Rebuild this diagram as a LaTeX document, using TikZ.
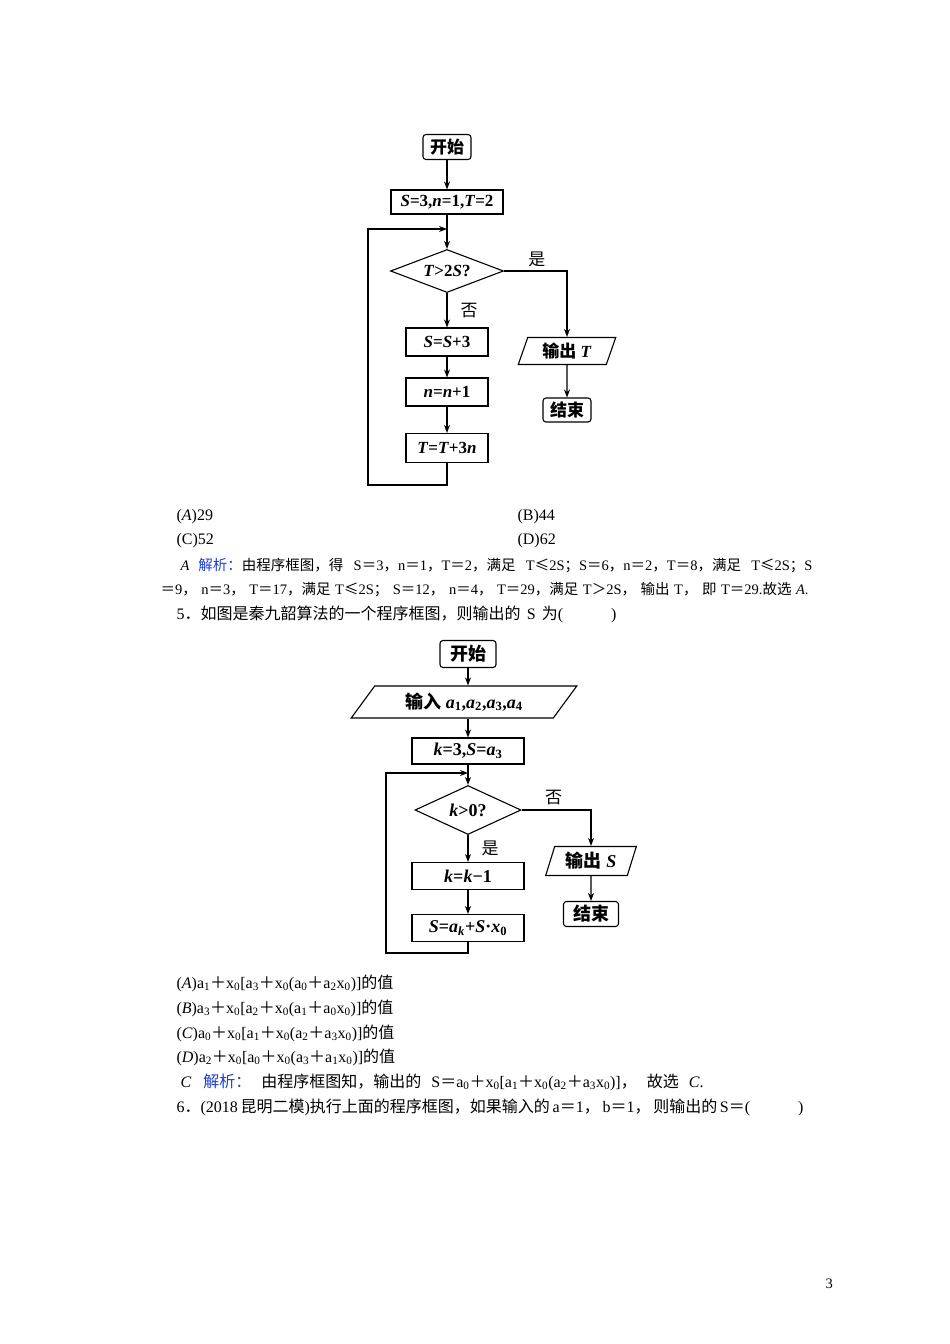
\documentclass[tikz,border=0pt]{standalone}
\usepackage{fontspec}
\setmainfont{Liberation Serif}
\newfontfamily\cjk{Noto Sans CJK SC}
\usetikzlibrary{shapes.geometric, arrows.meta}
\definecolor{jiexiblue}{HTML}{1A3FD0}

\newcommand{\zh}[1]{{\cjk #1}}
\newcommand{\zeq}{\zh{＝}}
\newcommand{\zcm}{\zh{，}}
\newcommand{\zsc}{\zh{；}}
\newcommand{\zpl}{\zh{＋}}
\newcommand{\zle}{\zh{≤}}
\newcommand{\ix}[1]{\textsubscript{#1}}
\newcommand{\qfont}{\fontsize{16}{19}\selectfont}
\newcommand{\sfont}{\fontsize{14.5}{18}\selectfont}
\newcommand{\flowfont}{\fontsize{17}{17}\selectfont\bfseries}
\newcommand{\flowfontb}{\fontsize{18}{18}\selectfont\bfseries}
\newcommand{\labelfont}{\fontsize{17}{17}\selectfont\cjk}

\begin{document}
\begin{tikzpicture}[x=1pt, y=-1pt, line width=1.1pt,
  every node/.style={inner sep=0pt},
  term/.style={draw, rounded corners=3pt, minimum width=48pt, minimum height=25pt, font=\flowfont},
  proc/.style={draw, minimum width=82pt, minimum height=28pt, font=\flowfont},
  decide/.style={draw, diamond, aspect=2.6, minimum width=113pt, minimum height=43pt, font=\flowfont},
  io/.style={draw, trapezium, trapezium left angle=70, trapezium right angle=110, trapezium stretches=true, font=\flowfont},
  arr/.style={-{Stealth[length=8pt, width=6pt]}},
  body/.style={anchor=base west, font=\qfont}]
\useasboundingbox (0,0) rectangle (950,1344);

% first flowchart
\node[term] (start1) at (447,147) {\zh{开始}};
\node[proc, minimum width=112pt, minimum height=24pt] (init1) at (447,202) {\textit{S}=3,\textit{n}=1,\textit{T}=2};
\node[decide] (cond1) at (447,271) {\textit{T}>2\textit{S}?};
\node[proc] (step1) at (447,342) {\textit{S}=\textit{S}+3};
\node[proc] (step2) at (447,392) {\textit{n}=\textit{n}+1};
\node[proc, minimum height=29pt] (step3) at (447,448) {\textit{T}=\textit{T}+3\textit{n}};
\node[io, minimum width=98pt, minimum height=27pt] (out1) at (567,351) {\zh{输出} \textit{T}};
\node[term, minimum height=24pt] (end1) at (567,410) {\zh{结束}};
\coordinate (join1) at (447,229);
\coordinate (back1) at (368,485);

\draw[arr] (start1) -- (init1);
\draw[arr] (init1) -- (cond1);
\draw[arr] (cond1) -- node[right=13pt, font=\labelfont]{否} (step1);
\draw[arr] (cond1.east) -| node[pos=0.26, above=4pt, font=\labelfont]{是} (out1.north);
\draw[arr] (step1) -- (step2);
\draw[arr] (step2) -- (step3);
\draw[arr] (out1) -- (end1);
\draw[arr] (step3.south) |- (back1) |- (join1);

% choices and solution
\node[body] (optA1) at (176,520) {(\textit{A})29};
\node[body] (optB1) at (517,520) {(B)44};
\node[body] (optC1) at (176,544) {(C)52};
\node[body] (optD1) at (517,544) {(D)62};
\node[body, font=\sfont] (sol1a) at (180,570) {\makebox[632pt][s]{\textit{A}\hspace{9pt}{\color{jiexiblue}\zh{解析：}}\zh{由程序框图，得}\ S\zeq 3\zcm n\zeq 1\zcm T\zeq 2\zh{，满足}\ T\zle 2S\zsc S\zeq 6\zcm n\zeq 2\zcm T\zeq 8\zh{，满足}\ T\zle 2S\zsc S}};
\node[body, font=\sfont] (sol1b) at (160,594) {\makebox[648pt][s]{\zeq 9\zcm\ n\zeq 3\zcm\ T\zeq 17\zh{，满足}\ T\zle 2S\zsc\ S\zeq 12\zcm\ n\zeq 4\zcm\ T\zeq 29\zh{，满足}\ T\zh{＞}2S\zcm\ \zh{输出}\ T\zcm\ \zh{即}\ T\zeq 29.\zh{故选}\ \textit{A}.}};
\node[body] (quest5) at (176,619) {\makebox[440pt][s]{5\zh{．如图是秦九韶算法的一个程序框图，则输出的}\ S\ \zh{为}(\zh{　　　})}};

% second flowchart
\node[term, minimum width=56pt, minimum height=27pt, font=\flowfontb] (start2) at (468,654) {\zh{开始}};
\node[io, trapezium left angle=50, trapezium right angle=130, minimum width=226pt, minimum height=32pt, font=\flowfontb] (in2) at (464,702) {\zh{输入} \textit{a}\ix{1},\textit{a}\ix{2},\textit{a}\ix{3},\textit{a}\ix{4}};
\node[proc, minimum width=112pt, minimum height=26pt, font=\flowfontb] (init2) at (468,751) {\textit{k}=3,\textit{S}=\textit{a}\ix{3}};
\node[decide, minimum width=106pt, minimum height=49pt, font=\flowfontb] (cond2) at (468,810) {\textit{k}>0?};
\node[proc, minimum width=112pt, minimum height=27pt, font=\flowfontb] (step4) at (468,876) {\textit{k}=\textit{k}−1};
\node[proc, minimum width=112pt, minimum height=27pt, font=\flowfontb] (step5) at (468,928) {\textit{S}=\textit{a}\ix{\textit{k}}+\textit{S}·\textit{x}\ix{0}};
\node[io, minimum width=91pt, minimum height=29pt, font=\flowfontb] (out2) at (591,861) {\zh{输出} \textit{S}};
\node[term, minimum width=55pt, minimum height=25pt, font=\flowfontb] (end2) at (591,914) {\zh{结束}};
\coordinate (join2) at (468,773);
\coordinate (back2) at (386,953);

\draw[arr] (start2) -- (start2 |- in2.north);
\draw[arr] (init2 |- in2.south) -- (init2);
\draw[arr] (init2) -- (cond2);
\draw[arr] (cond2) -- node[right=13pt, font=\labelfont]{是} (step4);
\draw[arr] (cond2.east) -| node[pos=0.23, above=5pt, font=\labelfont]{否} (out2.north);
\draw[arr] (step4) -- (step5);
\draw[arr] (out2) -- (end2);
\draw[arr] (step5.south) |- (back2) |- (join2);

% choices and solution
\node[body] (optA2) at (176,988) {(\textit{A})a\ix{1}\zpl x\ix{0}[a\ix{3}\zpl x\ix{0}(a\ix{0}\zpl a\ix{2}x\ix{0})]\zh{的值}};
\node[body] (optB2) at (176,1013) {(\textit{B})a\ix{3}\zpl x\ix{0}[a\ix{2}\zpl x\ix{0}(a\ix{1}\zpl a\ix{0}x\ix{0})]\zh{的值}};
\node[body] (optC2) at (176,1038) {(\textit{C})a\ix{0}\zpl x\ix{0}[a\ix{1}\zpl x\ix{0}(a\ix{2}\zpl a\ix{3}x\ix{0})]\zh{的值}};
\node[body] (optD2) at (176,1062) {(\textit{D})a\ix{2}\zpl x\ix{0}[a\ix{0}\zpl x\ix{0}(a\ix{3}\zpl a\ix{1}x\ix{0})]\zh{的值}};
\node[body] (sol2) at (180,1087) {\makebox[523pt][s]{\textit{C}\hspace{12pt}{\color{jiexiblue}\zh{解析：}}\ \zh{由程序框图知，输出的}\ S\zeq a\ix{0}\zpl x\ix{0}[a\ix{1}\zpl x\ix{0}(a\ix{2}\zpl a\ix{3}x\ix{0})]\zcm\ \zh{故选}\ \textit{C}.}};
\node[body] (quest6) at (176,1112) {\makebox[627pt][s]{6\zh{．}(2018\ \zh{昆明二模})\zh{执行上面的程序框图，如果输入的}\ a\zeq 1\zcm\ b\zeq 1\zcm\ \zh{则输出的}\ S\zeq(\zh{　　　})}};

\node[body, font=\sfont] (pagenum) at (825,1288) {3};
\end{tikzpicture}
\end{document}
